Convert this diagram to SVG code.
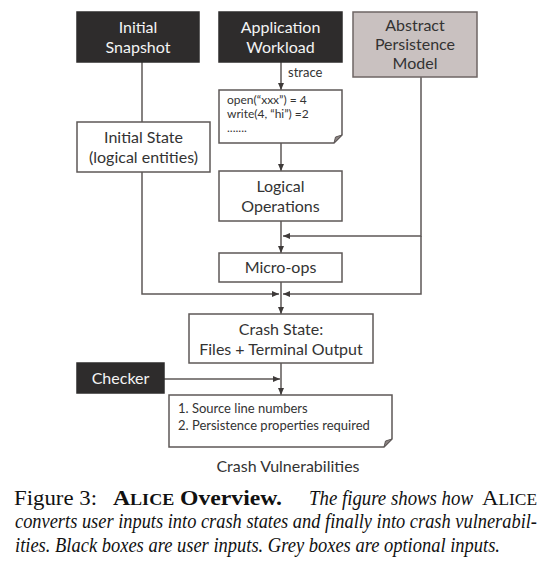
<svg xmlns="http://www.w3.org/2000/svg" width="549" height="569" viewBox="0 0 549 569">
<style>
.box{fill:#fff;stroke:#5e5857;stroke-width:1.5}
.dark{fill:#2e2c2c;stroke:#2e2c2c;stroke-width:1.5}
.grey{fill:#c9c1c0;stroke:#6e6564;stroke-width:1.5}
.t{font-family:Lato,"Open Sans",sans-serif;font-size:16px;fill:#333;text-anchor:middle}
.w{fill:#f4f4f4}
.s{font-family:Lato,"Open Sans",sans-serif;font-size:12px;fill:#333}
.m{font-family:Lato,"Open Sans",sans-serif;font-size:13px;fill:#333}
.c{fill:none;stroke:#5e5857;stroke-width:1.5}
.cap{font-family:"Liberation Serif","Times New Roman",serif;font-size:21px;fill:#111}
</style>
<defs>
<marker id="ah" markerUnits="userSpaceOnUse" markerWidth="7" markerHeight="6" refX="7" refY="3" orient="auto">
<path d="M0,0 L7,3 L0,6 z" fill="#3e3a39"/>
</marker>
</defs>
<g id="connectors">
<path class="c" d="M142,62 V122"/>
<path class="c" d="M142,172 V294 H279" marker-end="url(#ah)"/>
<path class="c" d="M281,62 V90" marker-end="url(#ah)"/>
<path class="c" d="M281,143 V171" marker-end="url(#ah)"/>
<path class="c" d="M281,221 V253" marker-end="url(#ah)"/>
<path class="c" d="M421,77 V236 H283" marker-end="url(#ah)"/>
<path class="c" d="M421,236 V294 H283" marker-end="url(#ah)"/>
<path class="c" d="M281,282 V314" marker-end="url(#ah)"/>
<path class="c" d="M164,379 H280" marker-end="url(#ah)"/>
<path class="c" d="M281,363 V395" marker-end="url(#ah)"/>
</g>
<g id="initial-snapshot">
<rect class="dark" x="77" y="12" width="122" height="50"/>
<text class="t w" x="138" y="33">Initial</text>
<text class="t w" x="138" y="53">Snapshot</text>
</g>
<g id="application-workload">
<rect class="dark" x="219" y="12" width="123" height="50"/>
<text class="t w" x="280.5" y="33">Application</text>
<text class="t w" x="280.5" y="53">Workload</text>
</g>
<g id="abstract-persistence-model">
<rect class="grey" x="353" y="12" width="124" height="65"/>
<text class="t" x="415" y="31">Abstract</text>
<text class="t" x="415" y="50">Persistence</text>
<text class="t" x="415" y="69">Model</text>
</g>
<g id="strace-label">
<text class="m" x="288" y="77">strace</text>
</g>
<g id="trace">
<path class="box" d="M219,90 H342 V135 L334,143 H219 Z"/>
<path d="M342,135 L335.5,137 L334,143 Z" fill="#8a8281" stroke="#5e5857" stroke-width="1"/>
<text class="s" x="227" y="104">open(“xxx”) = 4</text>
<text class="s" x="227" y="118">write(4, “hi”) =2</text>
<text class="s" x="227" y="132" font-size="8">.......</text>
</g>
<g id="initial-state">
<rect class="box" x="77" y="122" width="133" height="50"/>
<text class="t" x="143.5" y="143">Initial State</text>
<text class="t" x="143.5" y="163">(logical entities)</text>
</g>
<g id="logical-operations">
<rect class="box" x="219" y="171" width="123" height="50"/>
<text class="t" x="280.5" y="192">Logical</text>
<text class="t" x="280.5" y="212">Operations</text>
</g>
<g id="micro-ops">
<rect class="box" x="219" y="253" width="123" height="29"/>
<text class="t" x="280.5" y="273">Micro-ops</text>
</g>
<g id="crash-state">
<rect class="box" x="189" y="314" width="184" height="49"/>
<text class="t" x="281" y="335">Crash State:</text>
<text class="t" x="281" y="355">Files + Terminal Output</text>
</g>
<g id="checker">
<rect class="dark" x="77" y="363" width="87" height="30"/>
<text class="t w" x="120.5" y="384">Checker</text>
</g>
<g id="crash-vulnerabilities">
<path class="box" d="M169,395 H392 V439 L384,447 H169 Z"/>
<path d="M392,439 L385.5,441 L384,447 Z" fill="#8a8281" stroke="#5e5857" stroke-width="1"/>
<text class="m" x="178" y="413">1. Source line numbers</text>
<text class="m" x="178" y="430">2. Persistence properties required</text>
<text class="t" x="288" y="472" font-size="15">Crash Vulnerabilities</text>
</g>
<g id="caption">
<text class="cap" x="14" y="505" textLength="83" lengthAdjust="spacingAndGlyphs">Figure 3:</text>
<text class="cap" x="113" y="505" font-weight="bold" textLength="169" lengthAdjust="spacingAndGlyphs">A<tspan font-size="16">LICE</tspan> Overview.</text>
<text class="cap" x="309" y="505" font-style="italic" textLength="164" lengthAdjust="spacingAndGlyphs">The figure shows how</text>
<text class="cap" x="482" y="505" textLength="55" lengthAdjust="spacingAndGlyphs">A<tspan font-size="16">LICE</tspan></text>
<text class="cap" x="15" y="528" font-style="italic" textLength="522" lengthAdjust="spacingAndGlyphs">converts user inputs into crash states and finally into crash vulnerabil-</text>
<text class="cap" x="15" y="552" font-style="italic" textLength="485" lengthAdjust="spacingAndGlyphs">ities. Black boxes are user inputs. Grey boxes are optional inputs.</text>
</g>
</svg>
